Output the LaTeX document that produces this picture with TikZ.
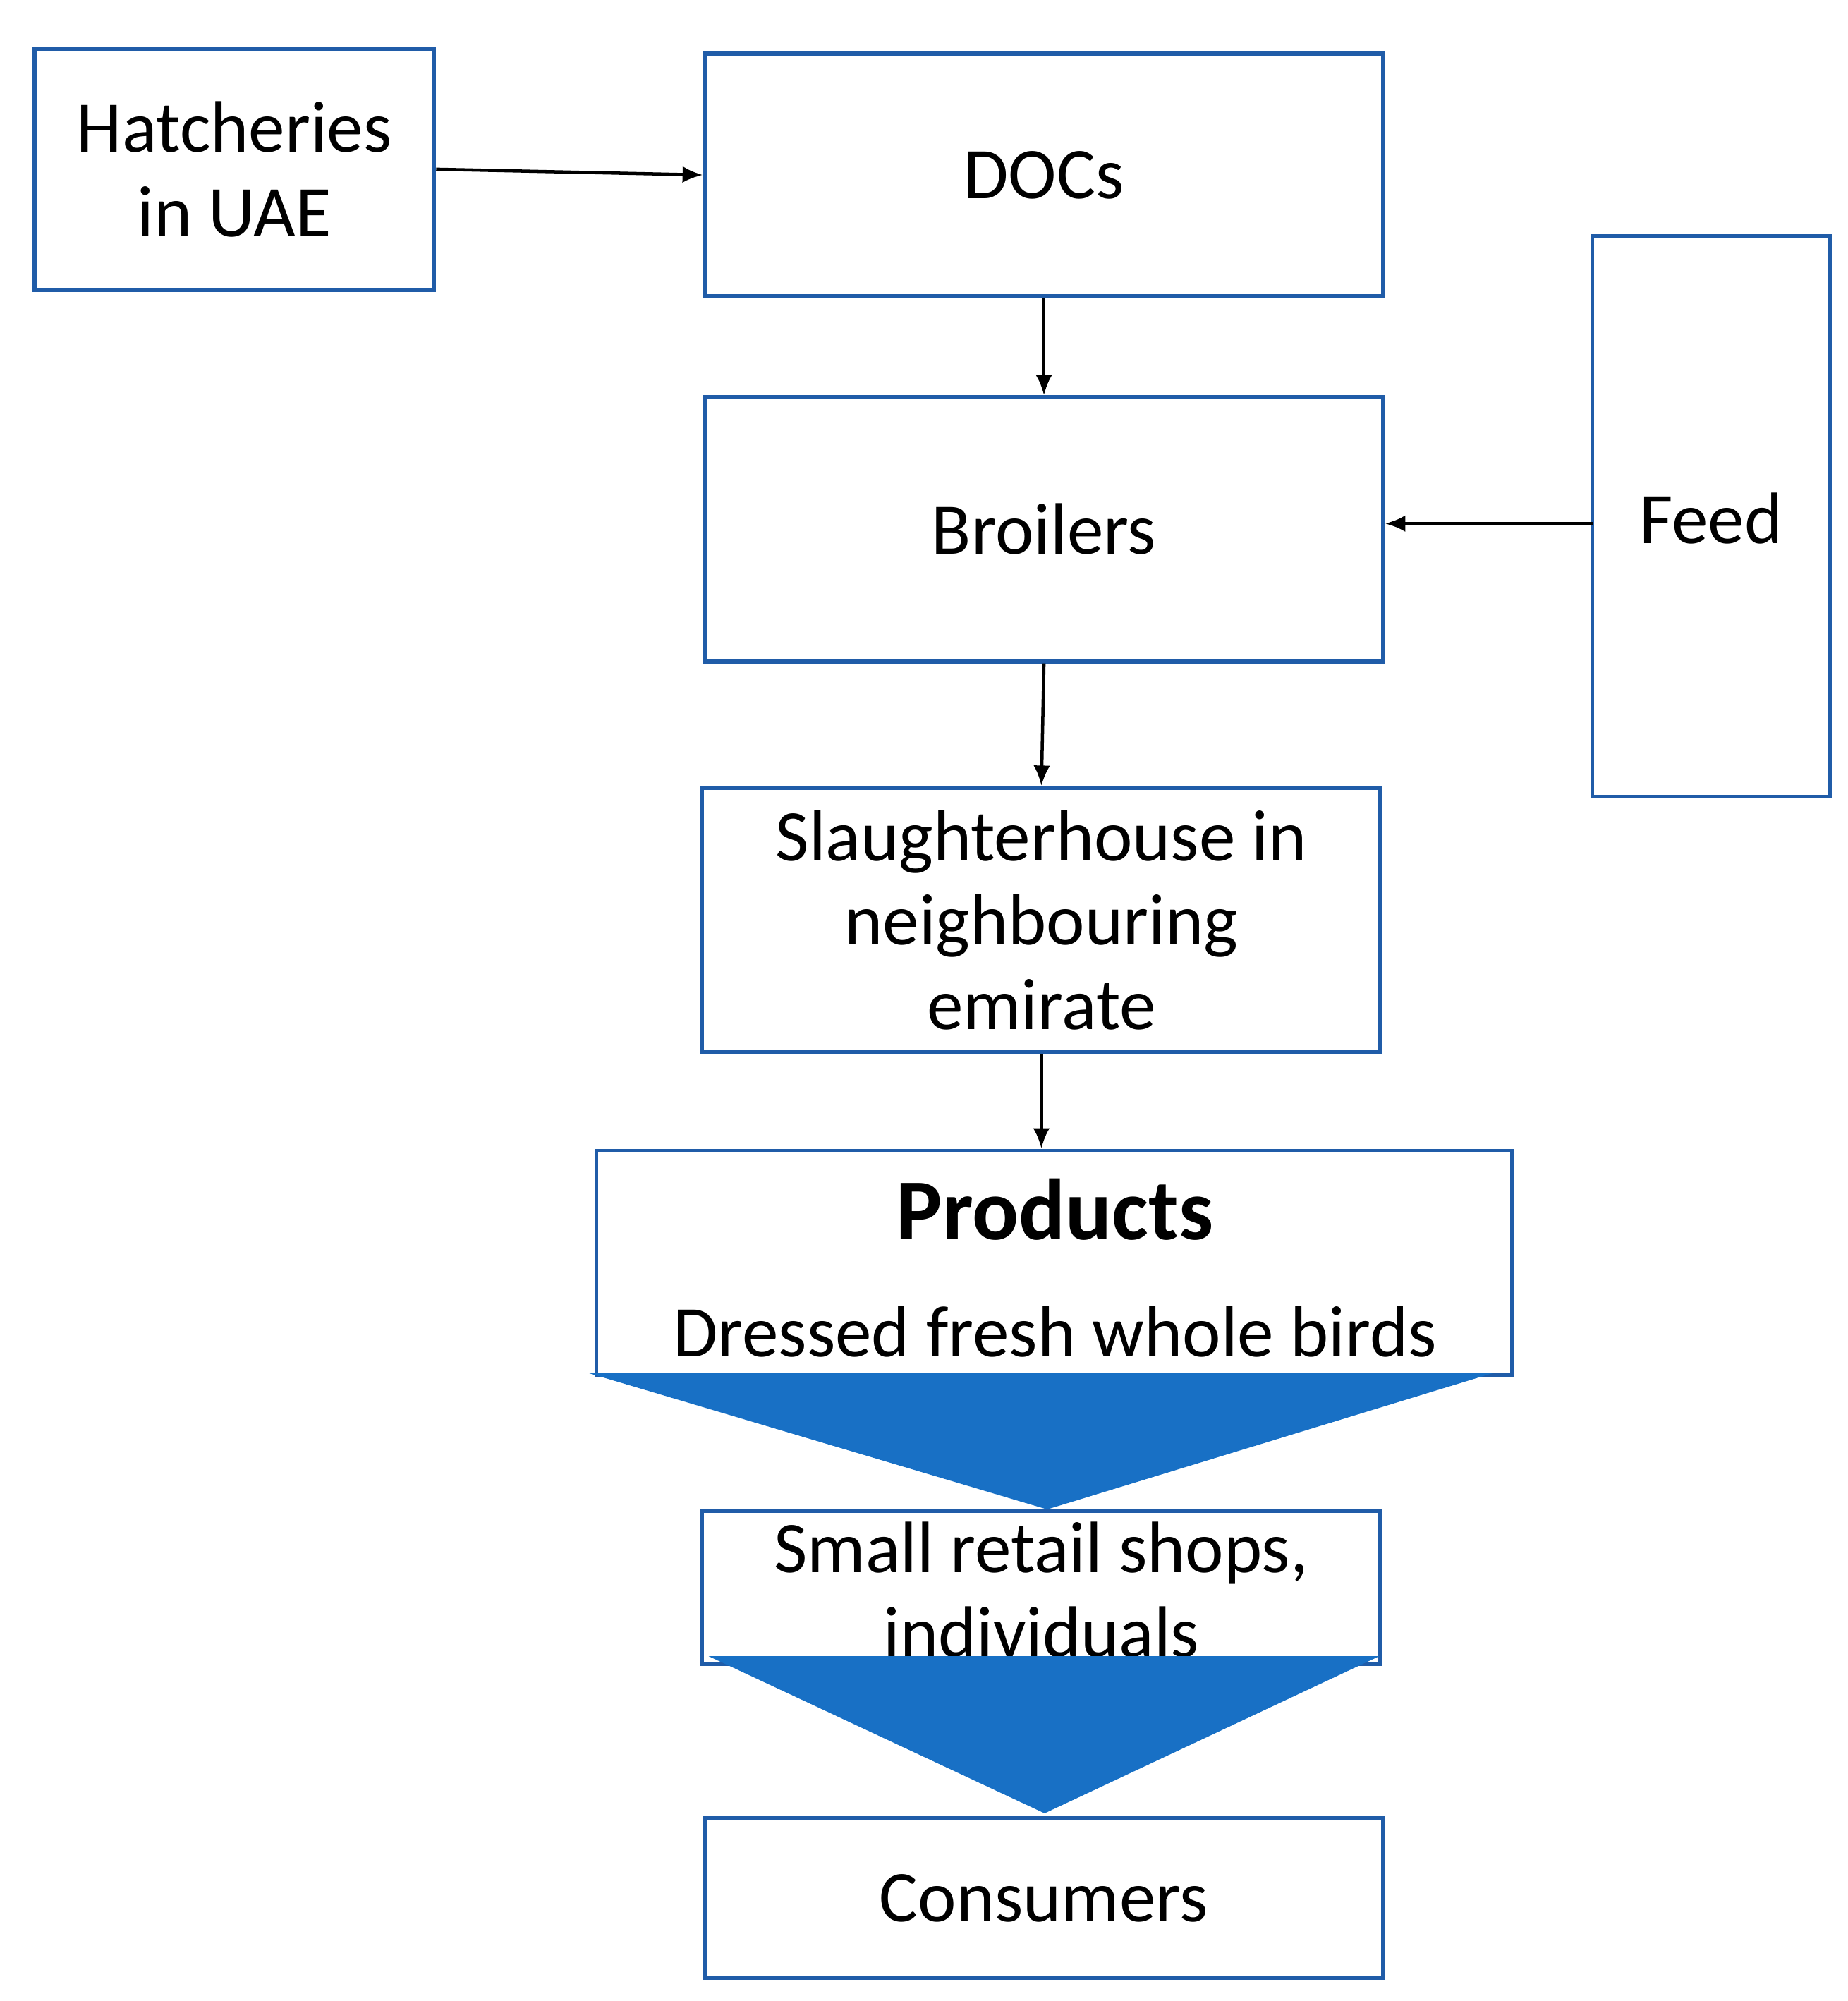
\documentclass[tikz,border=0pt]{standalone}
\usepackage{fontspec}
\setmainfont{Carlito}
\usetikzlibrary{arrows.meta}
\definecolor{bord}{RGB}{32,92,168}
\definecolor{tri}{RGB}{24,112,197}
\begin{document}
\begin{tikzpicture}[x=1pt,y=-1pt,
 txt/.style={font=\fontsize{57}{66}\selectfont,align=center},
 box/.style={draw=bord,line width=3pt,rectangle,inner sep=0pt,txt},
 arr/.style={-{Latex[length=16pt,width=13pt]},line width=2.5pt,black}]
\useasboundingbox (0,0) rectangle (1447,1567);
\node[box,minimum width=313pt,minimum height=189pt] (hat) at (183.5,132.5) {Hatcheries\\in UAE};
\node[box,minimum width=531pt,minimum height=190pt] (doc) at (817.5,137) {DOCs};
\node[box,minimum width=531pt,minimum height=207pt] (bro) at (817.5,414.5) {Broilers};
\node[box,minimum width=186pt,minimum height=439pt] (feed) at (1340,404.5) {};
\node[txt] (feedt) at (1340,406) {Feed};
\coordinate (fa) at (1247,410);
\node[box,minimum width=531pt,minimum height=207pt] (sl) at (815.5,720.5) {Slaughterhouse in\\neighbouring\\emirate};
\node[box,minimum width=717pt,minimum height=176pt] (prod) at (825.5,989) {};
\node[font=\bfseries\fontsize{68}{70}\selectfont] (pt) at (826,947) {Products};
\node[txt] (pd) at (826,1043) {Dressed fresh whole birds};
\fill[tri] (460,1075) -- (1170,1075) -- (820,1182) -- cycle;
\node[box,minimum width=531pt,minimum height=120pt] (ret) at (815.5,1243) {};
\node[txt] (rt) at (815.5,1245) {Small retail shops,\\individuals};
\fill[tri] (555,1297) -- (1080,1297) -- (818,1420) -- cycle;
\node[box,minimum width=531pt,minimum height=125pt] (con) at (817.5,1486.5) {Consumers};
\draw[arr] (hat.east) -- (doc.west);
\draw[arr] (doc.south) -- (bro.north);
\draw[arr] (fa) -- (fa -| bro.east);
\draw[arr] (bro.south) -- (sl.north);
\draw[arr] (sl.south) -- (sl.south |- prod.north);
\end{tikzpicture}
\end{document}
